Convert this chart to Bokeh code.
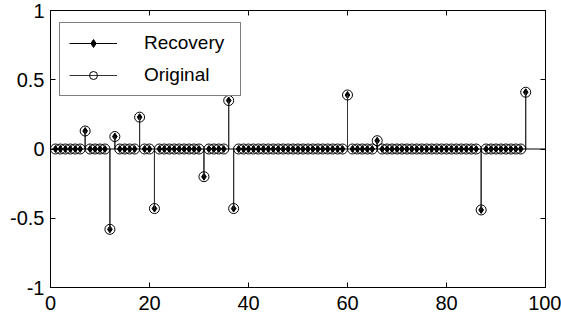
from bokeh.plotting import figure
from bokeh.models import Range1d, LinearAxis, FixedTicker, Legend, LegendItem, ColumnDataSource, Span
from bokeh.embed import file_html
from bokeh.resources import INLINE

# ---- data ----
n_samples = list(range(1, 97))
spike_pos = [7, 12, 13, 18, 21, 31, 36, 37, 60, 66, 87, 96]
original_spikes = [0.13, -0.58, 0.09, 0.23, -0.43, -0.20, 0.35, -0.43, 0.39, 0.06, -0.44, 0.41]
recovery_spikes = [0.13, -0.58, 0.09, 0.23, -0.43, -0.20, 0.35, -0.43, 0.39, 0.06, -0.44, 0.41]
x_ticks = [0, 20, 40, 60, 80, 100]
y_ticks = [-1, -0.5, 0, 0.5, 1]
y_tick_labels = {-1: "-1", -0.5: "-0.5", 0: "0", 0.5: "0.5", 1: "1"}

orig_map = dict(zip(spike_pos, original_spikes))
rec_map = dict(zip(spike_pos, recovery_spikes))
original = [orig_map.get(k, 0.0) for k in n_samples]
recovery = [rec_map.get(k, 0.0) for k in n_samples]

src = ColumnDataSource(dict(x=n_samples, orig=original, rec=recovery,
                            zero=[0.0] * len(n_samples)))

FONT = "Liberation Sans"

p = figure(width=561, height=320, output_backend="svg", toolbar_location=None,
           x_range=Range1d(0, 100), y_range=Range1d(-1, 1),
           min_border_left=50, min_border_right=16, min_border_top=10, min_border_bottom=33,
           background_fill_color="white", border_fill_color="white")
p.xgrid.visible = False
p.ygrid.visible = False
p.outline_line_color = "black"
p.outline_line_width = 1

for ax, ticks in ((p.xaxis[0], x_ticks), (p.yaxis[0], y_ticks)):
    ax.ticker = FixedTicker(ticks=ticks)
    ax.major_tick_in = 5
    ax.major_tick_out = 0
    ax.minor_tick_in = 0
    ax.minor_tick_out = 0
    ax.axis_line_color = "black"
    ax.major_tick_line_color = "black"
    ax.major_label_text_font = FONT
    ax.major_label_text_font_size = "20px"
    ax.major_label_text_color = "black"
p.xaxis[0].major_label_standoff = 8
p.yaxis[0].major_label_standoff = 6
p.yaxis[0].major_label_overrides = y_tick_labels

top_ax = LinearAxis(ticker=FixedTicker(ticks=x_ticks))
right_ax = LinearAxis(ticker=FixedTicker(ticks=y_ticks))
for ax in (top_ax, right_ax):
    ax.major_tick_in = 5
    ax.major_tick_out = 0
    ax.minor_tick_in = 0
    ax.minor_tick_out = 0
    ax.major_label_text_font_size = "0px"
    ax.major_label_text_color = None
    ax.major_label_standoff = 0
    ax.axis_line_color = "black"
p.add_layout(top_ax, "above")
p.add_layout(right_ax, "right")

# baseline
p.add_layout(Span(location=0, dimension="width", line_color="black", line_width=1))

# Recovery stems
rec_stem = p.segment(x0="x", y0="zero", x1="x", y1="rec", source=src, line_color="black", line_width=1)
rec_mk = p.scatter(x="x", y="rec", source=src, marker="diamond", size=7,
                   fill_color="black", line_color="black")
# Original stems
orig_stem = p.segment(x0="x", y0="zero", x1="x", y1="orig", source=src, line_color="#333333", line_width=1)
orig_mk = p.scatter(x="x", y="orig", source=src, marker="circle", size=10,
                    fill_color=None, line_color="black", line_width=1)

legend = Legend(items=[LegendItem(label="Recovery", renderers=[rec_stem, rec_mk]),
                       LegendItem(label="Original", renderers=[orig_stem, orig_mk])],
                location=(9, 191))
legend.border_line_color = "black"
legend.border_line_width = 1
legend.background_fill_color = "white"
legend.background_fill_alpha = 1
legend.label_text_font = FONT
legend.label_text_font_size = "19px"
legend.label_text_color = "black"
legend.glyph_width = 48
legend.glyph_height = 20
legend.label_height = 20
legend.label_width = 87
legend.label_standoff = 27
legend.spacing = 10
legend.padding = 9
legend.margin = 0
p.add_layout(legend, "center")

open("out.html", "w").write(file_html(p, INLINE))
